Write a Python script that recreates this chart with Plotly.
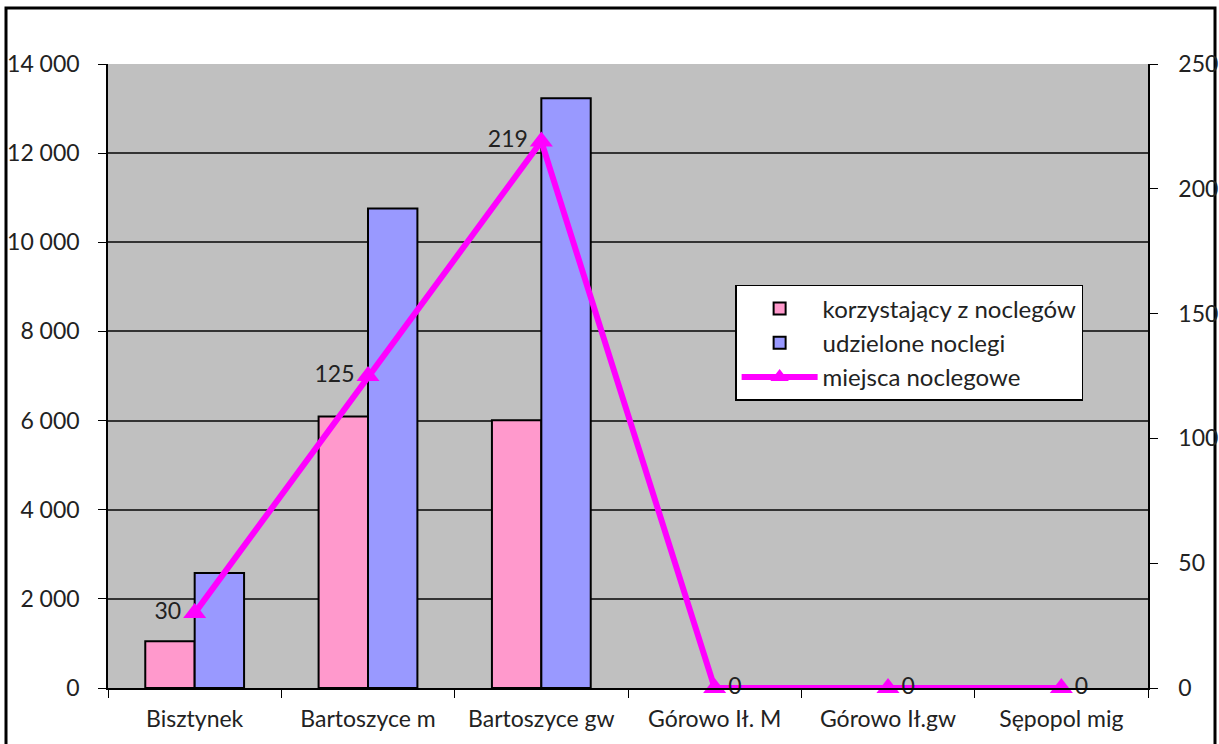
import plotly.graph_objects as go

categories = ["Bisztynek", "Bartoszyce m", "Bartoszyce gw", "Górowo Ił. M", "Górowo Ił.gw", "Sępopol mig"]
korzystajacy = [1050, 6090, 6010, 0, 0, 0]
udzielone = [2580, 10760, 13230, 0, 0, 0]
miejsca = [30, 125, 219, 0, 0, 0]
left_ticks = [0, 2000, 4000, 6000, 8000, 10000, 12000, 14000]
left_ticktext = ["0", "2 000", "4 000", "6 000", "8 000", "10 000", "12 000", "14 000"]
right_ticks = [0, 50, 100, 150, 200, 250]

FONT = "Lato"
FS = 23
TXT = "#222222"

W, H = 1219, 744
L, T, PW, PH = 108, 64, 1040, 624

def outline(vals):
    return [2 if v > 0 else 0 for v in vals]

fig = go.Figure()
fig.add_trace(go.Bar(
    x=categories, y=korzystajacy, name="korzystający z noclegów",
    marker=dict(color="#FF99CC", line=dict(color="black", width=outline(korzystajacy))),
))
fig.add_trace(go.Bar(
    x=categories, y=udzielone, name="udzielone noclegi",
    marker=dict(color="#9999FF", line=dict(color="black", width=outline(udzielone))),
))
fig.add_trace(go.Scatter(
    x=categories, y=miejsca, name="miejsca noclegowe", yaxis="y2",
    mode="lines+markers+text",
    line=dict(color="#FF00FF", width=6),
    marker=dict(symbol="triangle-up", size=20, color="#FF00FF"),
    text=[str(v) for v in miejsca],
    textposition=["middle left", "middle left", "middle left", "middle right", "middle right", "middle right"],
    textfont=dict(family=FONT, size=FS, color=TXT),
    cliponaxis=False,
))

fig.update_layout(
    width=W, height=H,
    margin=dict(l=L, r=W - L - PW, t=T, b=H - T - PH),
    paper_bgcolor="white",
    plot_bgcolor="#C0C0C0",
    font=dict(family=FONT, size=FS, color=TXT),
    barmode="group",
    bargap=0.43,
    bargroupgap=0,
    showlegend=True,
    legend=dict(
        x=0.603, y=0.646, xanchor="left", yanchor="top",
        bgcolor="white", bordercolor="black", borderwidth=1.5,
        font=dict(family=FONT, size=24, color=TXT),
        traceorder="normal", itemwidth=76,
    ),
    xaxis=dict(
        showgrid=False, ticks="outside", tickson="boundaries", ticklen=8,
        tickcolor="black", showline=True, linecolor="black", linewidth=1.5,
        range=[-0.5, 5.5], ticklabelstandoff=10, automargin=False,
    ),
    yaxis=dict(
        range=[0, 14000], tickvals=left_ticks, ticktext=left_ticktext,
        showgrid=True, gridcolor="#333333", gridwidth=1.5,
        ticks="outside", ticklen=8, tickcolor="black",
        showline=True, linecolor="black", linewidth=1.5,
        zeroline=False, ticklabelstandoff=14, automargin=False,
    ),
    yaxis2=dict(
        range=[0, 250], tickvals=right_ticks, overlaying="y", side="right",
        showgrid=False, ticks="outside", ticklen=8, tickcolor="black",
        showline=True, linecolor="black", linewidth=1.5, zeroline=False,
        ticklabelstandoff=16, automargin=False,
    ),
    shapes=[dict(type="rect", xref="paper", yref="paper",
                 x0=(6 - L) / PW, x1=(1215 - L) / PW,
                 y0=-(H - T - PH + 40) / PH, y1=1 + (T - 8) / PH,
                 line=dict(color="black", width=3), layer="below")],
)

fig.write_html(
    "out.html",
    config={"displayModeBar": False},
    post_script="document.body.style.margin='0';document.body.style.overflow='hidden';",
)
